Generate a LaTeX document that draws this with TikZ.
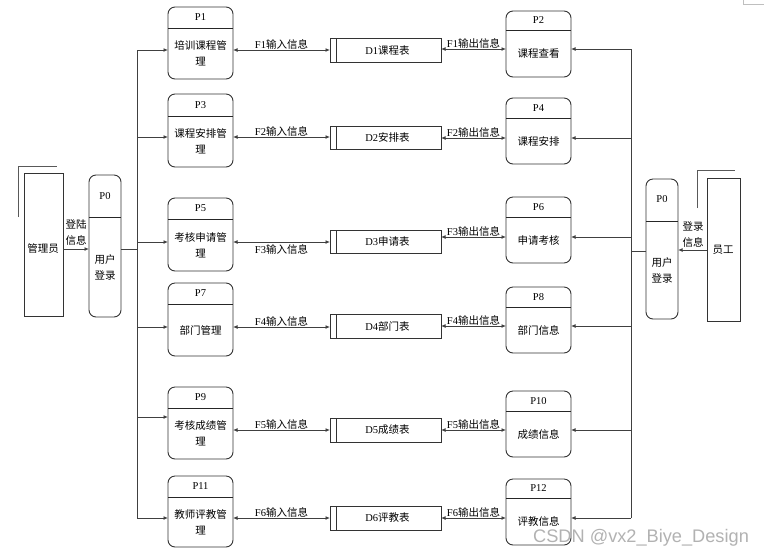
\documentclass[tikz,border=0pt]{standalone}
\usepackage{fontspec}
\setmainfont{Liberation Serif}
\newfontfamily\cjk{Noto Sans CJK SC}
\newfontfamily\wmfont{Liberation Sans}
\usetikzlibrary{arrows.meta,fit,calc}
\tikzset{
  boxline/.style={draw=black!80, line width=0.9pt},
  procbox/.style={boxline, rounded corners=7pt, inner sep=0pt, outer sep=0pt},
  storebox/.style={boxline, inner sep=0pt, outer sep=0pt},
  entbox/.style={boxline, inner sep=0pt, outer sep=0pt},
  divline/.style={draw=black!85, line width=1pt},
  shadowline/.style={draw=black!65, line width=1pt},
  conn/.style={draw=black!75, line width=0.9pt},
  arr/.style={conn, -{Latex[length=4.5pt,width=4pt]}},
  darr/.style={conn, {Latex[length=4.5pt,width=4pt]}-{Latex[length=4.5pt,width=4pt]}},
  idtxt/.style={font=\fontsize{10.5}{12}\selectfont, inner sep=0pt},
  ptxt/.style={font=\fontsize{10.5}{16}\cjk, align=center, inner sep=0pt},
  stxt/.style={font=\fontsize{10.5}{12}\selectfont, inner sep=0pt},
  flab/.style={font=\fontsize{10.5}{12}\selectfont, inner sep=0.6pt},
}
\newcommand\mkproc[8]{%
  \node[procbox, fit={(#2,#3) (#4,#5)}] (#1) {};
  \draw[divline] (#2,#6) -- (#4,#6);
  \node[idtxt] (#1id) at ({(#2+#4)/2},{(#3+#6)/2}) {#7};
  \node[ptxt] (#1tx) at ({(#2+#4)/2},{(#6+#5)/2}) {#8};
}
\newcommand\mkstore[4]{%
  \node[storebox, fit={(330,#2) (441,#3)}] (#1) {};
  \draw[boxline] (336,#2) -- (336,#3);
  \node[stxt] (#1tx) at ($(#1.center)+(2,0)$) {#4};
}
\newcommand\flow[7]{%
  \coordinate (#2yl) at (0,#4);
  \coordinate (#2yr) at (0,#5);
  \draw[darr] (#1.east |- #2yl) -- node[flab, above] {#6} (#2.west |- #2yl);
  \draw[darr] (#2.east |- #2yr) -- node[flab, above] {#7} (#3.west |- #2yr);
}
\begin{document}
\begin{tikzpicture}[x=1pt, y=-1pt]
\useasboundingbox (0,0) rectangle (764,558);
\fill[white] (0,0) rectangle (764,558);

% page corner mark
\draw[black!25, line width=0.6pt] (743,0) -- (743,4) -- (764,4);

% external entity: 管理员
\draw[shadowline] (18,217) -- (18,166) -- (57,166);
\node[entbox, fit={(24,173) (63,316)}] (adm) {};
\node[ptxt] (admtx) at (43,249) {管理员};

% external entity: 员工
\draw[shadowline] (697,208) -- (697,170) -- (735,170);
\node[entbox, fit={(707,178) (740,321)}] (emp) {};
\node[ptxt] (emptx) at (723,250) {员工};

% P0 left
\node[procbox, fit={(89,175) (121,317)}] (LP0) {};
\draw[divline] (89,217) -- (121,217);
\node[idtxt] (LP0id) at (105,196) {P0};
\node[ptxt] (LP0tx) at (105,267) {用户\\登录};

% P0 right
\node[procbox, fit={(646,179) (678,319)}] (RP0) {};
\draw[divline] (646,221) -- (678,221);
\node[idtxt] (RP0id) at (662,199) {P0};
\node[ptxt] (RP0tx) at (662,270) {用户\\登录};

% login flows
\coordinate (admy) at (0,249);
\draw[arr] (adm.east |- admy) -- (LP0.west |- admy);
\node[ptxt] (admlab) at (76,233) {登陆\\信息};
\coordinate (empy) at (0,250);
\draw[arr] (emp.west |- empy) -- (RP0.east |- empy);
\node[ptxt] (emplab) at (693,235) {登录\\信息};

% left processes
\mkproc{P1}{168}{7}{233}{79}{28}{P1}{培训课程管\\理}
\mkproc{P3}{168}{94}{233}{167}{116}{P3}{课程安排管\\理}
\mkproc{P5}{168}{198}{233}{271}{219}{P5}{考核申请管\\理}
\mkproc{P7}{168}{283}{233}{356}{304}{P7}{部门管理}
\mkproc{P9}{168}{387}{233}{459}{408}{P9}{考核成绩管\\理}
\mkproc{P11}{168}{476}{233}{547}{497}{P11}{教师评教管\\理}

% right processes
\mkproc{P2}{506}{11}{571}{77}{30}{P2}{课程查看}
\mkproc{P4}{506}{98}{571}{164}{118}{P4}{课程安排}
\mkproc{P6}{506}{197}{571}{263}{217}{P6}{申请考核}
\mkproc{P8}{506}{287}{571}{353}{307}{P8}{部门信息}
\mkproc{P10}{506}{391}{571}{457}{411}{P10}{成绩信息}
\mkproc{P12}{506}{479}{571}{545}{498}{P12}{评教信息}

% stores
\mkstore{D1}{38}{62}{D1{\cjk 课程表}}
\mkstore{D2}{126}{149}{D2{\cjk 安排表}}
\mkstore{D3}{230}{253}{D3{\cjk 申请表}}
\mkstore{D4}{314}{338}{D4{\cjk 部门表}}
\mkstore{D5}{418}{442}{D5{\cjk 成绩表}}
\mkstore{D6}{506}{530}{D6{\cjk 评教表}}

% flows process <-> store <-> process
\flow{P1}{D1}{P2}{50}{49}{F1{\cjk 输入信息}}{F1{\cjk 输出信息}}
\flow{P3}{D2}{P4}{137}{138}{F2{\cjk 输入信息}}{F2{\cjk 输出信息}}
\coordinate (D3yl) at (0,242);
\coordinate (D3yr) at (0,237);
\draw[darr] (P5.east |- D3yl) -- node[flab, below=1.5pt] {F3{\cjk 输入信息}} (D3.west |- D3yl);
\draw[darr] (D3.east |- D3yr) -- node[flab, above] {F3{\cjk 输出信息}} (P6.west |- D3yr);
\flow{P7}{D4}{P8}{327}{326}{F4{\cjk 输入信息}}{F4{\cjk 输出信息}}
\flow{P9}{D5}{P10}{430}{430}{F5{\cjk 输入信息}}{F5{\cjk 输出信息}}
\flow{P11}{D6}{P12}{518}{518}{F6{\cjk 输入信息}}{F6{\cjk 输出信息}}

% left bus
\coordinate (lb1) at (137,50);
\coordinate (lb3) at (137,137);
\coordinate (lb5) at (137,242);
\coordinate (lb7) at (137,327);
\coordinate (lb9) at (137,417);
\coordinate (lb11) at (137,518);
\coordinate (lb0) at (137,249);
\draw[conn] (lb1) -- (lb11);
\draw[conn] (LP0.east |- lb0) -- (lb0);
\draw[arr] (lb1) -- (lb1 -| P1.west);
\draw[arr] (lb3) -- (lb3 -| P3.west);
\draw[arr] (lb5) -- (lb5 -| P5.west);
\draw[arr] (lb7) -- (lb7 -| P7.west);
\draw[arr] (lb9) -- (lb9 -| P9.west);
\draw[arr] (lb11) -- (lb11 -| P11.west);

% right bus
\coordinate (rb2) at (631,49);
\coordinate (rb4) at (631,138);
\coordinate (rb6) at (631,237);
\coordinate (rb8) at (631,326);
\coordinate (rb10) at (631,430);
\coordinate (rb12) at (631,518);
\coordinate (rb0) at (631,251);
\draw[conn] (rb2) -- (rb12);
\draw[conn] (RP0.west |- rb0) -- (rb0);
\draw[arr] (rb2) -- (rb2 -| P2.east);
\draw[arr] (rb4) -- (rb4 -| P4.east);
\draw[arr] (rb6) -- (rb6 -| P6.east);
\draw[arr] (rb8) -- (rb8 -| P8.east);
\draw[arr] (rb10) -- (rb10 -| P10.east);
\draw[arr] (rb12) -- (rb12 -| P12.east);

% watermark
\node[font=\wmfont\fontsize{18.2}{20}\selectfont, text=black!30, inner sep=0pt, anchor=west] (wm) at (533,538) {CSDN @vx2\_Biye\_Design};
\end{tikzpicture}
\end{document}
